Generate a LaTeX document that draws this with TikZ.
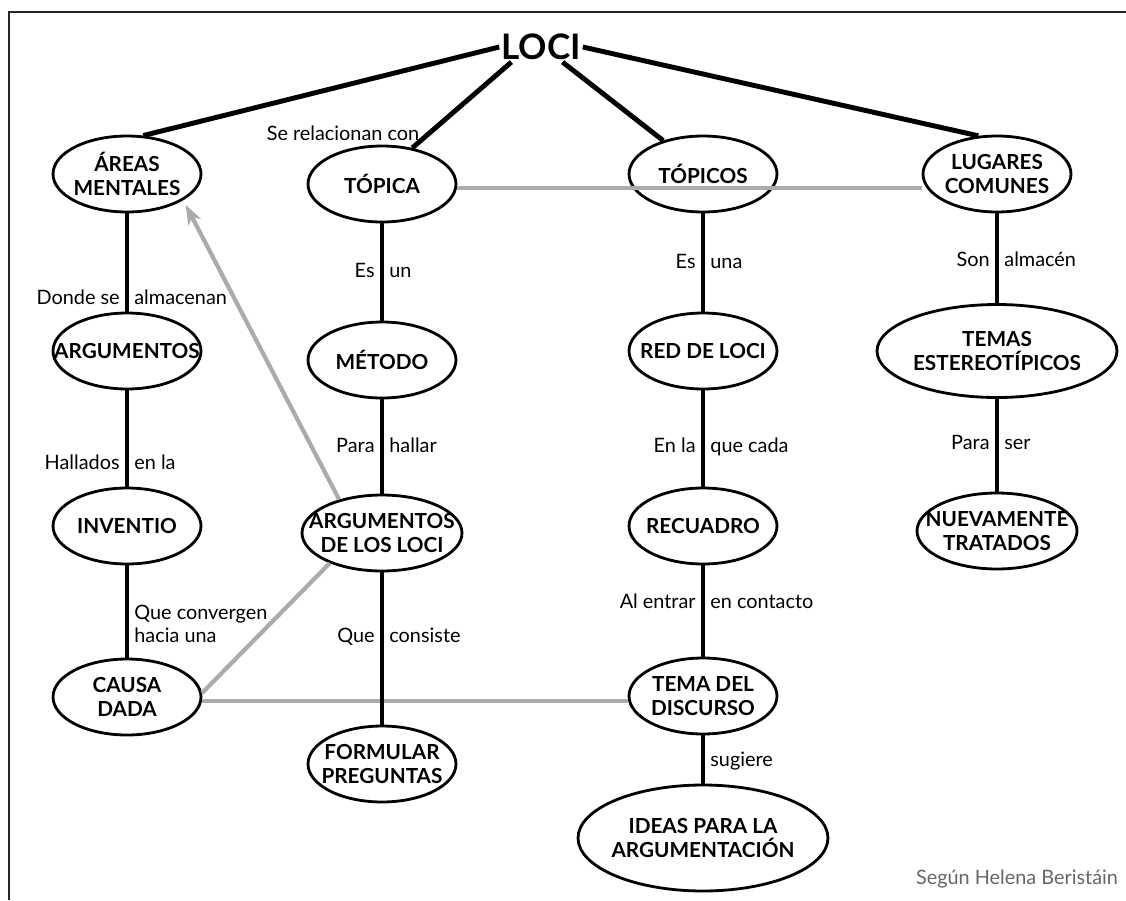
\documentclass[tikz,border=0pt]{standalone}
\usepackage{fontspec}
\setmainfont{Lato}
\usetikzlibrary{shapes.geometric, arrows.meta, positioning}
\definecolor{linkgray}{rgb}{0.67, 0.67, 0.68}
\definecolor{creditgray}{rgb}{0.40, 0.40, 0.40}

\begin{document}
\begin{tikzpicture}[x=0.02cm, y=-0.02cm,
    concept/.style={ellipse, draw, line width=1.6pt, minimum width=2.96cm,
        minimum height=1.52cm, inner sep=0pt, label={[ctext]center:#1}},
    ctext/.style={font=\bfseries\fontsize{11.8}{13.2}\selectfont, align=center, inner sep=0pt},
    link/.style={line width=2.8pt},
    relation/.style={line width=2.4pt, linkgray},
    lbl/.style={font=\fontsize{11.3}{13}\selectfont, inner sep=1pt, align=left,
        text height=8pt, text depth=2.5pt}]

    \useasboundingbox (0,0) rectangle (1126,900);
    \draw[line width=0.9pt, black!85] (9,900) -- (9,12) -- (1126,12);

    % root
    \node[font=\bfseries\fontsize{20}{23}\selectfont, inner sep=1pt] (loci) at (541,47) {LOCI};

    % concepts, one column after the other
    \node[concept={ÁREAS\\MENTALES}] (areas) at (127,174) {};
    \node[concept={ARGUMENTOS}] (argumentos) at (127,351) {};
    \node[concept={INVENTIO}] (inventio) at (127,526) {};
    \node[concept={CAUSA\\DADA}] (causa) at (127,697) {};

    \node[concept={TÓPICA}] (topica) at (382,184) {};
    \node[concept={MÉTODO}] (metodo) at (382,360) {};
    \node[concept={ARGUMENTOS\\DE LOS LOCI}, minimum width=3.2cm] (argloci) at (382,533) {};
    \node[concept={FORMULAR\\PREGUNTAS}] (formular) at (382,764) {};

    \node[concept={TÓPICOS}] (topicos) at (703,174) {};
    \node[concept={RED DE LOCI}] (red) at (703,351) {};
    \node[concept={RECUADRO}] (recuadro) at (703,526) {};
    \node[concept={TEMA DEL\\DISCURSO}] (tema) at (703,696) {};
    \node[concept={IDEAS PARA LA\\ARGUMENTACIÓN}, minimum width=5cm, minimum height=2.12cm] (ideas) at (703,838) {};

    \node[concept={LUGARES\\COMUNES}] (lugares) at (997,174) {};
    \node[concept={TEMAS\\ESTEREOTÍPICOS}, minimum width=4.8cm, minimum height=1.86cm] (temas) at (997,351) {};
    \node[concept={NUEVAMENTE\\TRATADOS}, minimum width=3.2cm] (nuevamente) at (997,531) {};

    % grey cross links
    \draw[relation] (topica.-3) -- (topica.-3 -| lugares.west);
    \draw[relation] (causa.-3) -- (causa.-3 -| tema.west);
    \draw[relation] (causa.3) -- (argloci.210);
    \draw[relation, -{Stealth[length=11pt, width=8pt, inset=3pt]}, shorten >=3pt] (argloci.142) -- (areas.-25);

    % from the root
    \draw[link] (loci.west) -- (areas.67);
    \draw[link] (loci.207) -- (topica.50);
    \draw[link] (loci.-35) -- (topicos.140);
    \draw[link] (loci.east) -- (lugares.116);
    \node[lbl] (serel) at (343,136) {Se relacionan con};

    % vertical links with their words on both sides
    \foreach \a/\b/\l/\r/\y in {areas/argumentos/Donde se/almacenan/300,
                                argumentos/inventio/Hallados/en la/465,
                                topica/metodo/Es/un/273,
                                metodo/argloci/Para/hallar/448,
                                argloci/formular/Que/consiste/638,
                                topicos/red/Es/una/264,
                                red/recuadro/En la/que cada/448,
                                recuadro/tema/Al entrar/en contacto/604,
                                lugares/temas/Son/almacén/262,
                                temas/nuevamente/Para/ser/445} {
        \draw[link] (\a) -- (\b);
        \node[lbl, left=3pt] at (\a.south |- 0,\y) {\l};
        \node[lbl, right=3pt] at (\a.south |- 0,\y) {\r};
    }
    \draw[link] (inventio) -- (causa);
    \node[lbl, right=3pt, text height=, text depth=] (converge) at (inventio.south |- 0,624) {Que convergen\\hacia una};
    \draw[link] (tema) -- (ideas);
    \node[lbl, right=3pt] (sugiere) at (tema.south |- 0,762) {sugiere};

    \node[lbl, anchor=east, text=creditgray] (credit) at (1120,880) {Según Helena Beristáin};
\end{tikzpicture}
\end{document}
